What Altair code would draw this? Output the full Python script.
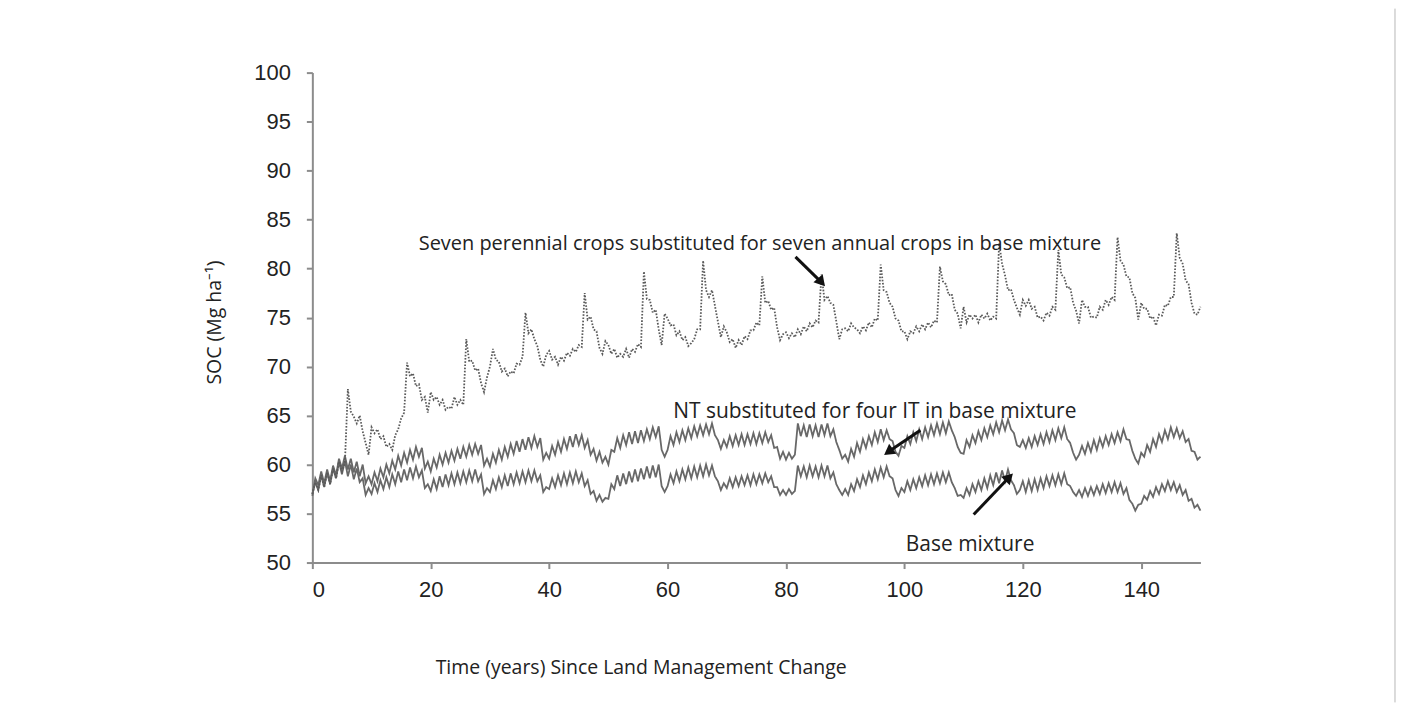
import altair as alt
import pandas as pd

years = [i * 0.5 for i in range(301)]

nt = [
    56.8, 58.6, 57.9, 59.3, 58.1, 59.5, 58.3, 59.9, 58.9, 60.6, 59.6, 60.9, 59.5, 60.6, 59.2, 60.3, 58.8, 60.0, 58.1, 58.8,
    58.0, 59.2, 58.3, 59.6, 58.7, 60.0, 59.1, 60.4, 59.5, 60.9, 59.9, 61.2, 60.2, 61.5, 60.5, 61.8, 60.8, 61.7, 59.6, 60.3,
    59.3, 60.6, 59.7, 61.0, 60.0, 61.2, 60.2, 61.4, 60.4, 61.6, 60.6, 61.8, 60.8, 62.0, 61.0, 62.1, 61.1, 62.0, 59.9, 60.6,
    59.8, 61.1, 60.2, 61.5, 60.5, 61.8, 60.8, 62.1, 61.1, 62.4, 61.3, 62.6, 61.5, 62.8, 61.7, 62.9, 61.8, 62.7, 60.5, 61.2,
    60.6, 61.9, 61.0, 62.3, 61.3, 62.6, 61.6, 62.9, 61.8, 63.1, 62.0, 63.0, 61.7, 62.5, 61.0, 61.6, 60.4, 61.3, 60.2, 60.8,
    60.0, 61.5, 61.3, 62.7, 61.7, 63.0, 62.0, 63.3, 62.1, 63.4, 62.2, 63.5, 62.4, 63.6, 62.6, 63.8, 62.8, 63.9, 61.5, 60.8,
    61.5, 62.9, 62.0, 63.3, 62.3, 63.5, 62.5, 63.7, 62.7, 63.9, 62.9, 64.0, 63.0, 64.1, 63.1, 64.2, 63.0, 62.5, 61.6, 62.5,
    61.8, 62.9, 61.9, 63.0, 62.0, 63.1, 62.0, 63.1, 62.1, 63.2, 62.1, 63.2, 62.2, 63.3, 62.3, 63.0, 61.7, 61.8, 60.6, 61.3,
    60.5, 61.2, 60.6, 61.0, 64.2, 62.9, 64.0, 62.8, 64.1, 62.9, 64.0, 62.8, 64.1, 63.0, 64.2, 62.9, 63.6, 62.3, 61.5, 60.6,
    61.0, 60.3, 61.6, 60.8, 62.2, 61.3, 62.6, 61.7, 62.9, 62.0, 63.3, 62.3, 63.6, 62.5, 63.5, 62.6, 62.4, 61.3, 60.9, 61.9,
    61.7, 62.9, 62.1, 63.3, 62.4, 63.6, 62.6, 63.8, 62.8, 64.0, 63.0, 64.2, 63.1, 64.3, 63.2, 64.4, 63.5, 62.8, 61.8, 61.2,
    61.1, 62.5, 61.8, 63.0, 62.2, 63.4, 62.5, 63.7, 62.8, 64.0, 63.1, 64.3, 63.3, 64.5, 63.5, 64.6, 63.6, 63.2, 62.0, 61.8,
    62.5, 61.7, 62.7, 61.8, 62.9, 62.0, 63.1, 62.1, 63.3, 62.3, 63.5, 62.5, 63.7, 62.7, 63.8, 62.6, 62.2, 61.2, 60.5, 61.0,
    61.9, 61.1, 62.2, 61.3, 62.5, 61.5, 62.7, 61.8, 62.9, 62.0, 63.1, 62.2, 63.3, 62.4, 63.6, 62.6, 62.5, 61.4, 60.6, 60.1,
    61.2, 60.8, 62.0, 61.3, 62.6, 61.8, 63.1, 62.3, 63.5, 62.6, 63.8, 62.8, 63.7, 62.7, 63.4, 62.3, 62.6, 61.4, 61.3, 60.5,
    60.8,
]

base = [
    57.0, 58.2, 57.4, 58.9, 57.7, 59.2, 58.0, 59.6, 58.6, 60.3, 59.0, 60.4, 58.8, 60.0, 58.5, 59.6, 58.2, 58.6, 56.9, 57.6,
    57.0, 58.1, 57.2, 58.4, 57.5, 58.7, 57.7, 59.0, 58.0, 59.3, 58.2, 59.5, 58.4, 59.7, 58.6, 59.8, 58.7, 59.4, 57.6, 58.0,
    57.3, 58.5, 57.5, 58.8, 57.7, 59.0, 57.9, 59.1, 58.0, 59.2, 58.1, 59.3, 58.2, 59.4, 58.3, 59.5, 58.3, 59.0, 57.0, 57.6,
    57.2, 58.4, 57.5, 58.7, 57.7, 58.9, 57.8, 59.1, 58.0, 59.2, 58.1, 59.3, 58.2, 59.4, 58.3, 59.4, 58.3, 58.9, 57.2, 57.7,
    57.5, 58.6, 57.7, 58.9, 57.9, 59.1, 58.0, 59.2, 58.1, 59.3, 58.2, 59.1, 57.8, 58.4, 57.0, 57.3, 56.3, 56.9, 56.2, 56.6,
    56.5, 58.0, 57.5, 58.9, 57.8, 59.1, 58.0, 59.3, 58.2, 59.5, 58.3, 59.6, 58.5, 59.8, 58.6, 59.9, 58.7, 60.0, 57.8, 57.2,
    57.8, 59.0, 58.1, 59.3, 58.3, 59.5, 58.5, 59.7, 58.6, 59.8, 58.7, 59.9, 58.8, 60.0, 58.9, 59.9, 58.8, 58.3, 57.4, 58.1,
    57.6, 58.6, 57.7, 58.7, 57.8, 58.8, 57.9, 58.9, 57.9, 59.0, 58.0, 59.0, 58.1, 59.1, 58.2, 58.8, 57.7, 57.7, 56.9, 57.4,
    56.9, 57.5, 57.0, 57.3, 59.9, 58.8, 59.8, 58.7, 59.9, 58.8, 59.8, 58.7, 59.9, 58.8, 59.9, 58.6, 59.2, 58.0, 57.4, 56.9,
    57.5, 56.9, 58.0, 57.3, 58.5, 57.7, 58.9, 58.0, 59.2, 58.3, 59.5, 58.5, 59.7, 58.7, 59.8, 58.8, 58.6, 57.4, 56.8, 57.6,
    57.2, 58.3, 57.4, 58.5, 57.6, 58.7, 57.8, 58.9, 57.9, 59.0, 58.0, 59.1, 58.1, 59.2, 58.2, 59.2, 58.2, 57.6, 56.8, 56.9,
    56.6, 57.6, 56.9, 58.0, 57.2, 58.3, 57.4, 58.6, 57.6, 58.9, 57.9, 59.2, 58.1, 59.4, 58.3, 59.5, 58.4, 57.9, 57.0, 57.4,
    58.3, 57.2, 58.4, 57.3, 58.5, 57.4, 58.6, 57.6, 58.8, 57.8, 58.9, 57.9, 59.0, 58.0, 59.1, 58.0, 57.8, 57.2, 56.8, 57.4,
    56.7, 57.6, 56.8, 57.7, 56.9, 57.8, 57.0, 58.0, 57.1, 58.1, 57.2, 58.2, 57.2, 58.1, 57.0, 57.6, 56.4, 56.0, 55.3, 55.9,
    56.0, 56.8, 56.4, 57.3, 56.7, 57.7, 57.0, 58.0, 57.3, 58.3, 57.4, 58.2, 57.2, 57.9, 56.9, 57.4, 56.3, 56.5, 55.6, 55.9,
    55.3,
]

perennial = [
    57.0, 58.2, 57.4, 58.9, 57.7, 59.2, 58.0, 59.6, 58.6, 60.3, 59.3, 60.2, 67.7, 65.4, 64.9, 64.2, 65.0, 63.4, 62.2, 61.0,
    63.8, 63.2, 63.6, 62.6, 62.9, 61.8, 62.1, 61.5, 63.0, 63.6, 64.7, 65.3, 70.4, 69.0, 69.3, 68.0, 68.2, 66.6, 66.9, 65.3,
    67.4, 66.6, 66.9, 66.1, 66.6, 65.6, 65.9, 65.7, 66.9, 66.1, 66.6, 66.1, 72.8, 70.5, 70.6, 69.6, 69.8, 68.3, 67.4, 68.9,
    70.0, 71.8, 70.7, 70.5, 69.5, 69.8, 69.0, 69.5, 69.3, 70.3, 70.2, 71.0, 75.5, 73.4, 73.8, 72.8, 72.1, 70.7, 70.0, 71.2,
    71.6, 70.7, 71.0, 70.2, 71.0, 70.6, 71.4, 71.1, 71.8, 71.5, 72.2, 72.0, 77.5, 74.8, 75.1, 73.8, 73.6, 71.9, 71.3, 72.6,
    72.2, 71.3, 71.8, 70.9, 71.3, 71.0, 71.8, 70.9, 71.8, 71.5, 72.3, 72.0, 79.7, 76.9, 76.8, 75.5, 75.8, 73.8, 72.2, 75.4,
    74.9, 74.2, 74.3, 73.2, 73.6, 72.7, 73.0, 72.1, 72.4, 72.8, 73.8, 73.8, 80.8, 77.8, 77.1, 77.8, 76.2, 74.6, 73.0, 74.1,
    73.5, 72.5, 72.8, 71.9, 72.7, 72.2, 73.1, 72.8, 73.7, 73.7, 74.5, 74.2, 79.2, 76.5, 76.7, 75.8, 76.0, 74.0, 72.7, 73.3,
    73.5, 72.9, 73.4, 73.0, 73.8, 73.3, 74.1, 73.6, 74.4, 74.0, 74.7, 74.5, 79.4, 76.8, 77.2, 76.5, 76.3, 74.6, 72.8, 73.8,
    73.9, 73.6, 74.4, 74.0, 73.8, 73.4, 74.1, 73.7, 74.5, 74.0, 74.9, 74.7, 80.4, 77.8, 77.6, 76.5, 76.1, 74.9, 74.7, 73.6,
    73.6, 72.8, 73.6, 73.4, 74.1, 73.6, 74.3, 73.8, 74.5, 74.0, 74.7, 74.5, 80.2, 78.7, 78.4, 77.3, 77.4, 75.8, 75.4, 73.9,
    76.1, 74.5, 75.3, 74.9, 75.3, 74.5, 75.3, 74.9, 75.4, 74.7, 75.1, 74.9, 82.6, 80.5, 79.3, 77.8, 77.9, 76.8, 76.0, 75.3,
    76.8, 76.2, 76.8, 75.9, 76.1, 75.0, 75.1, 74.7, 75.5, 75.2, 76.1, 75.8, 81.9, 79.4, 79.1, 78.0, 78.1, 76.5, 75.7, 74.4,
    76.8, 76.1, 76.1, 75.0, 75.1, 75.0, 76.1, 75.8, 76.8, 76.3, 77.1, 76.8, 83.2, 80.8, 80.4, 79.2, 79.1, 77.5, 77.0, 74.8,
    76.5, 75.9, 75.9, 74.9, 75.1, 74.2, 75.3, 75.2, 76.3, 76.2, 77.1, 77.1, 83.6, 81.1, 80.5, 78.8, 78.4, 76.5, 75.4, 75.3,
    76.1,
]

series_names = ["NT", "Base", "Perennial"]
x_ticks = [0, 20, 40, 60, 80, 100, 120, 140]
y_ticks = [50, 55, 60, 65, 70, 75, 80, 85, 90, 95, 100]

notes_text = [
    "Seven perennial crops substituted for seven annual crops in base mixture",
    "NT substituted for four IT in base mixture",
    "Base mixture",
]
notes_x = [75.6, 95.0, 111.1]
notes_y = [82.5, 65.4, 51.8]
notes_size = [20, 21, 21]

arrow_x = [81.6, 102.7, 111.7]
arrow_y = [81.2, 63.5, 54.9]
arrow_x2 = [86.0, 97.3, 117.7]
arrow_y2 = [78.6, 61.3, 58.7]
arrow_angle = [139, 234, 45]

df = pd.DataFrame({
    "year": years * 3,
    "soc": nt + base + perennial,
    "series": ["NT"] * len(nt) + ["Base"] * len(base) + ["Perennial"] * len(perennial),
})
notes = pd.DataFrame({"x": notes_x, "y": notes_y, "t": notes_text, "s": notes_size})
arrows = pd.DataFrame({"x": arrow_x, "y": arrow_y, "x2": arrow_x2, "y2": arrow_y2, "a": arrow_angle})

xs = alt.Scale(domain=[0, 150], nice=False, zero=False)
ys = alt.Scale(domain=[50, 100], nice=False, zero=False)

lines = alt.Chart(df).mark_line(strokeWidth=1.8).encode(
    x=alt.X("year:Q", scale=xs, axis=alt.Axis(
        values=x_ticks, title="Time (years) Since Land Management Change",
        labelPadding=11, titleX=329, titleY=105, titleAlign="center", titleBaseline="middle")),
    y=alt.Y("soc:Q", scale=ys, axis=alt.Axis(
        values=y_ticks, title="SOC (Mg ha⁻¹)", labelPadding=16,
        titleX=-98, titleY=250, titleAlign="center", titleBaseline="middle", titleAngle=-90)),
    color=alt.Color("series:N", scale=alt.Scale(domain=series_names, range=["#686868", "#686868", "#5a5a5a"]), legend=None),
    strokeDash=alt.StrokeDash("series:N", scale=alt.Scale(domain=series_names, range=[[1, 0], [1, 0], [1.6, 1.6]]), legend=None),
    strokeWidth=alt.StrokeWidth("series:N", scale=alt.Scale(domain=series_names, range=[1.8, 1.8, 1.5]), legend=None),
    detail="series:N",
)

rules = alt.Chart(arrows).mark_rule(strokeWidth=3, color="#111111").encode(
    x=alt.X("x:Q", scale=xs), y=alt.Y("y:Q", scale=ys), x2="x2:Q", y2="y2:Q")

heads = alt.Chart(arrows).mark_point(shape="triangle-up", filled=True, size=150, color="#111111", opacity=1).encode(
    x=alt.X("x2:Q", scale=xs), y=alt.Y("y2:Q", scale=ys), angle=alt.Angle("a:Q", scale=None))

texts = alt.Chart(notes).mark_text(font="Open Sans", color="#222222", align="center", baseline="middle").encode(
    x=alt.X("x:Q", scale=xs), y=alt.Y("y:Q", scale=ys), text="t:N",
    size=alt.Size("s:Q", scale=None, legend=None))

frame = alt.Chart(notes).mark_rule(color="#d6d6d6", strokeWidth=1).encode(
    x=alt.value(1085), y=alt.value(-64), y2=alt.value(631))

chart = alt.layer(lines, rules, heads, texts, frame).properties(
    width=890, height=491,
    autosize=alt.AutoSizeParams(type="none"),
    padding={"left": 305, "top": 64, "right": 200, "bottom": 140},
    background="white",
).configure_view(stroke=None).configure_axis(
    grid=False,
    domainColor="#8c8c8c", domainWidth=2,
    tickColor="#8c8c8c", tickWidth=2, tickSize=6,
    labelFont="Liberation Sans", labelFontSize=22, labelColor="#222222",
    titleFont="Open Sans", titleFontSize=19.5, titleFontWeight="normal", titleColor="#222222",
)

chart.save("out.html", embed_options={"renderer": "svg", "actions": False})
